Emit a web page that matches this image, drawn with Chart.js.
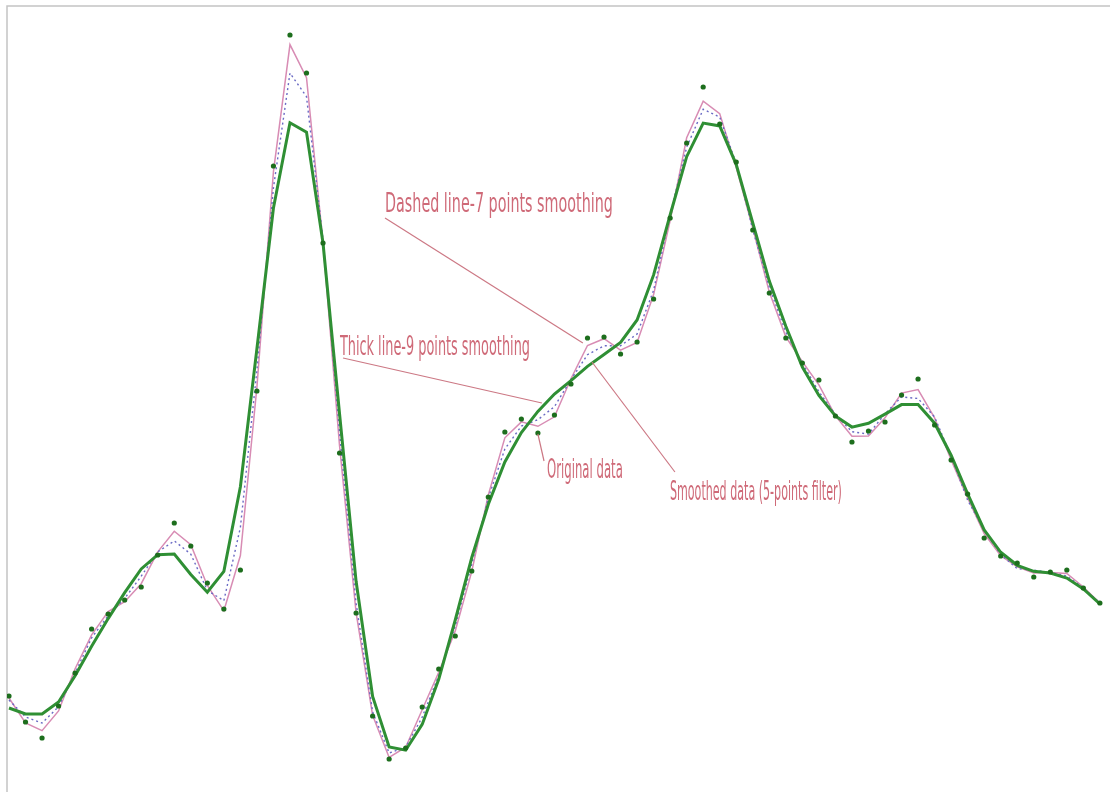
<!DOCTYPE html>
<html lang="en">
<head>
<meta charset="utf-8"/>
<title>Smoothing filters</title>
<script src="https://cdn.jsdelivr.net/npm/chart.js"></script>
<style>
  html, body { margin: 0; padding: 0; background: #fff; }
  #wrap { width: 1110px; height: 792px; position: relative; }
</style>
</head>
<body>
<div id="wrap"><canvas id="chart"></canvas></div>
<script>
  // sample index 0..66
  const original = [96,70,54,86,119,163,178,192,205,237,269,246,209,183,222,401,626,757,719,549,
    339,179,76,33,44,85,123,156,221,295,360,373,359,377,408,454,455,438,450,493,
    574,649,705,668,630,562,499,454,429,412,376,350,361,370,397,413,367,332,298,254,
    236,229,215,220,222,204,189];

  // 5 points filter (thin solid line)
  const smooth5 = [94,69,61.3,81.1,123.3,157.2,180.4,190.3,208.3,240.1,260.8,247.4,206.5,181.2,236.5,404.9,620.4,747.4,714.3,549.2,
    346.1,179.3,76.8,34.5,44.8,82.3,119.7,161.1,220.6,297.1,354.2,370.1,365.7,375.2,413.3,446.5,453.3,441.9,449.6,497.4,
    571.3,654.2,690.8,678.4,624.5,563.9,499.9,455.2,430.3,407.2,376.2,355.7,355.9,374.2,398.9,402.4,374.1,332.1,294.0,258.4,
    236.3,225.2,219.1,219.6,218.6,205,189];

  // 7 points (dashed)
  const smooth7 = [92,75,69,85.3,119.0,154.2,176.3,193.6,215.8,240.1,251.1,237.9,201.6,191.3,264.6,421.9,604.2,718.9,695.4,552.1,
    359.3,188.7,80.2,39.0,44.9,74.8,116.5,166.1,227.9,294.0,343.0,365.9,372.3,385.3,412.5,437.3,446.2,446.3,458.0,501.7,
    577.3,644.8,682.8,674.9,628.4,562.2,505.0,459.8,428.6,400.3,377.4,360.3,357.9,378.1,395.1,393.5,375.0,335.7,291.8,262.0,
    237.4,223.4,221.8,219.6,216,204,189];

  // 9 points (thick)
  const smooth9 = [84,78,78,90,116.3,145.8,173.4,199.4,223.1,237.3,237.9,217.5,199.7,220.6,305.2,443.3,584.0,669.2,659.9,548.7,
    378.0,210.7,95.5,45.0,41.8,67.6,112.7,172.0,234.5,287.7,330.1,359.5,380.6,398.0,411.4,425.6,437.5,449.6,472.0,517.1,
    577.0,635.3,668.9,666.1,627.4,569.2,510.9,465.8,424.9,396.5,376.0,364.9,368.7,377.9,387.4,387.6,368.8,336.8,298.2,262.1,
    239.7,226.7,220.7,219,214,203,188];

  // labels: text, left x, right x, baseline y (data units), leader line from/to
  const labelTexts = ["Dashed line-7 points smoothing", "Thick line-9 points smoothing", "Original data", "Smoothed data (5-points filter)"];
  const labelX0 = [22.75, 20.02, 32.55, 39.99];
  const labelX1 = [36.54, 31.52, 37.14, 50.39];
  const labelY = [580, 437, 314, 292];
  const leaderFrom = [[22.75, 574], [20.21, 434], [32.0, 358], [35.27, 430]];
  const leaderTo = [[34.72, 449], [32.24, 389], [32.37, 331], [40.29, 320]];

  const pts = arr => arr.map((v, i) => ({ x: i, y: v }));

  // grey frame on top and left of the plot area
  const framePlugin = {
    id: 'frame',
    beforeDatasetsDraw(chart) {
      const { ctx, chartArea: a } = chart;
      ctx.save();
      ctx.strokeStyle = '#c4c4c4';
      ctx.lineWidth = 1.5;
      ctx.beginPath();
      ctx.moveTo(a.left, a.bottom + 6);
      ctx.lineTo(a.left, a.top);
      ctx.lineTo(a.right + 6, a.top);
      ctx.stroke();
      ctx.restore();
    }
  };

  const labelPlugin = {
    id: 'labels',
    afterDatasetsDraw(chart) {
      const ctx = chart.ctx, xs = chart.scales.x, ys = chart.scales.y;
      ctx.save();
      ctx.strokeStyle = '#cc7884';
      ctx.lineWidth = 1.2;
      leaderFrom.forEach((f, i) => {
        ctx.beginPath();
        ctx.moveTo(xs.getPixelForValue(f[0]), ys.getPixelForValue(f[1]));
        ctx.lineTo(xs.getPixelForValue(leaderTo[i][0]), ys.getPixelForValue(leaderTo[i][1]));
        ctx.stroke();
      });
      ctx.fillStyle = '#cf6a78';
      ctx.font = '26px "Liberation Sans Narrow", "DejaVu Sans Condensed", sans-serif';
      ctx.textBaseline = 'alphabetic';
      labelTexts.forEach((t, i) => {
        const x0 = xs.getPixelForValue(labelX0[i]);
        const x1 = xs.getPixelForValue(labelX1[i]);
        const y = ys.getPixelForValue(labelY[i]);
        const w = ctx.measureText(t).width;
        ctx.save();
        ctx.translate(x0, y);
        ctx.scale((x1 - x0) / w, 1);
        ctx.fillText(t, 0, 0);
        ctx.restore();
      });
      ctx.restore();
    }
  };

  new Chart(document.getElementById('chart'), {
    type: 'line',
    data: {
      datasets: [
        {
          label: 'Original data',
          data: pts(original),
          showLine: false,
          pointRadius: 2.6,
          pointBackgroundColor: '#1d6e1d',
          pointBorderWidth: 0,
          order: 0
        },
        {
          label: '9 points',
          data: pts(smooth9),
          borderColor: '#2f8f34',
          borderWidth: 3,
          pointRadius: 0,
          tension: 0,
          order: 1
        },
        {
          label: '7 points',
          data: pts(smooth7),
          borderColor: '#6a6ac4',
          borderWidth: 1.4,
          borderDash: [2, 3],
          pointRadius: 0,
          tension: 0,
          order: 2
        },
        {
          label: '5 points',
          data: pts(smooth5),
          borderColor: '#d88cb4',
          borderWidth: 1.5,
          pointRadius: 0,
          tension: 0,
          order: 3
        }
      ]
    },
    options: {
      responsive: true,
      maintainAspectRatio: false,
      animation: false,
      layout: { padding: { top: 6, left: 7, right: 0, bottom: 0 } },
      plugins: { legend: { display: false }, tooltip: { enabled: false } },
      scales: {
        x: { type: 'linear', display: false, min: -0.12, max: 66.37 },
        y: { display: false, min: 4, max: 786 }
      }
    },
    plugins: [framePlugin, labelPlugin]
  });
</script>
</body>
</html>
